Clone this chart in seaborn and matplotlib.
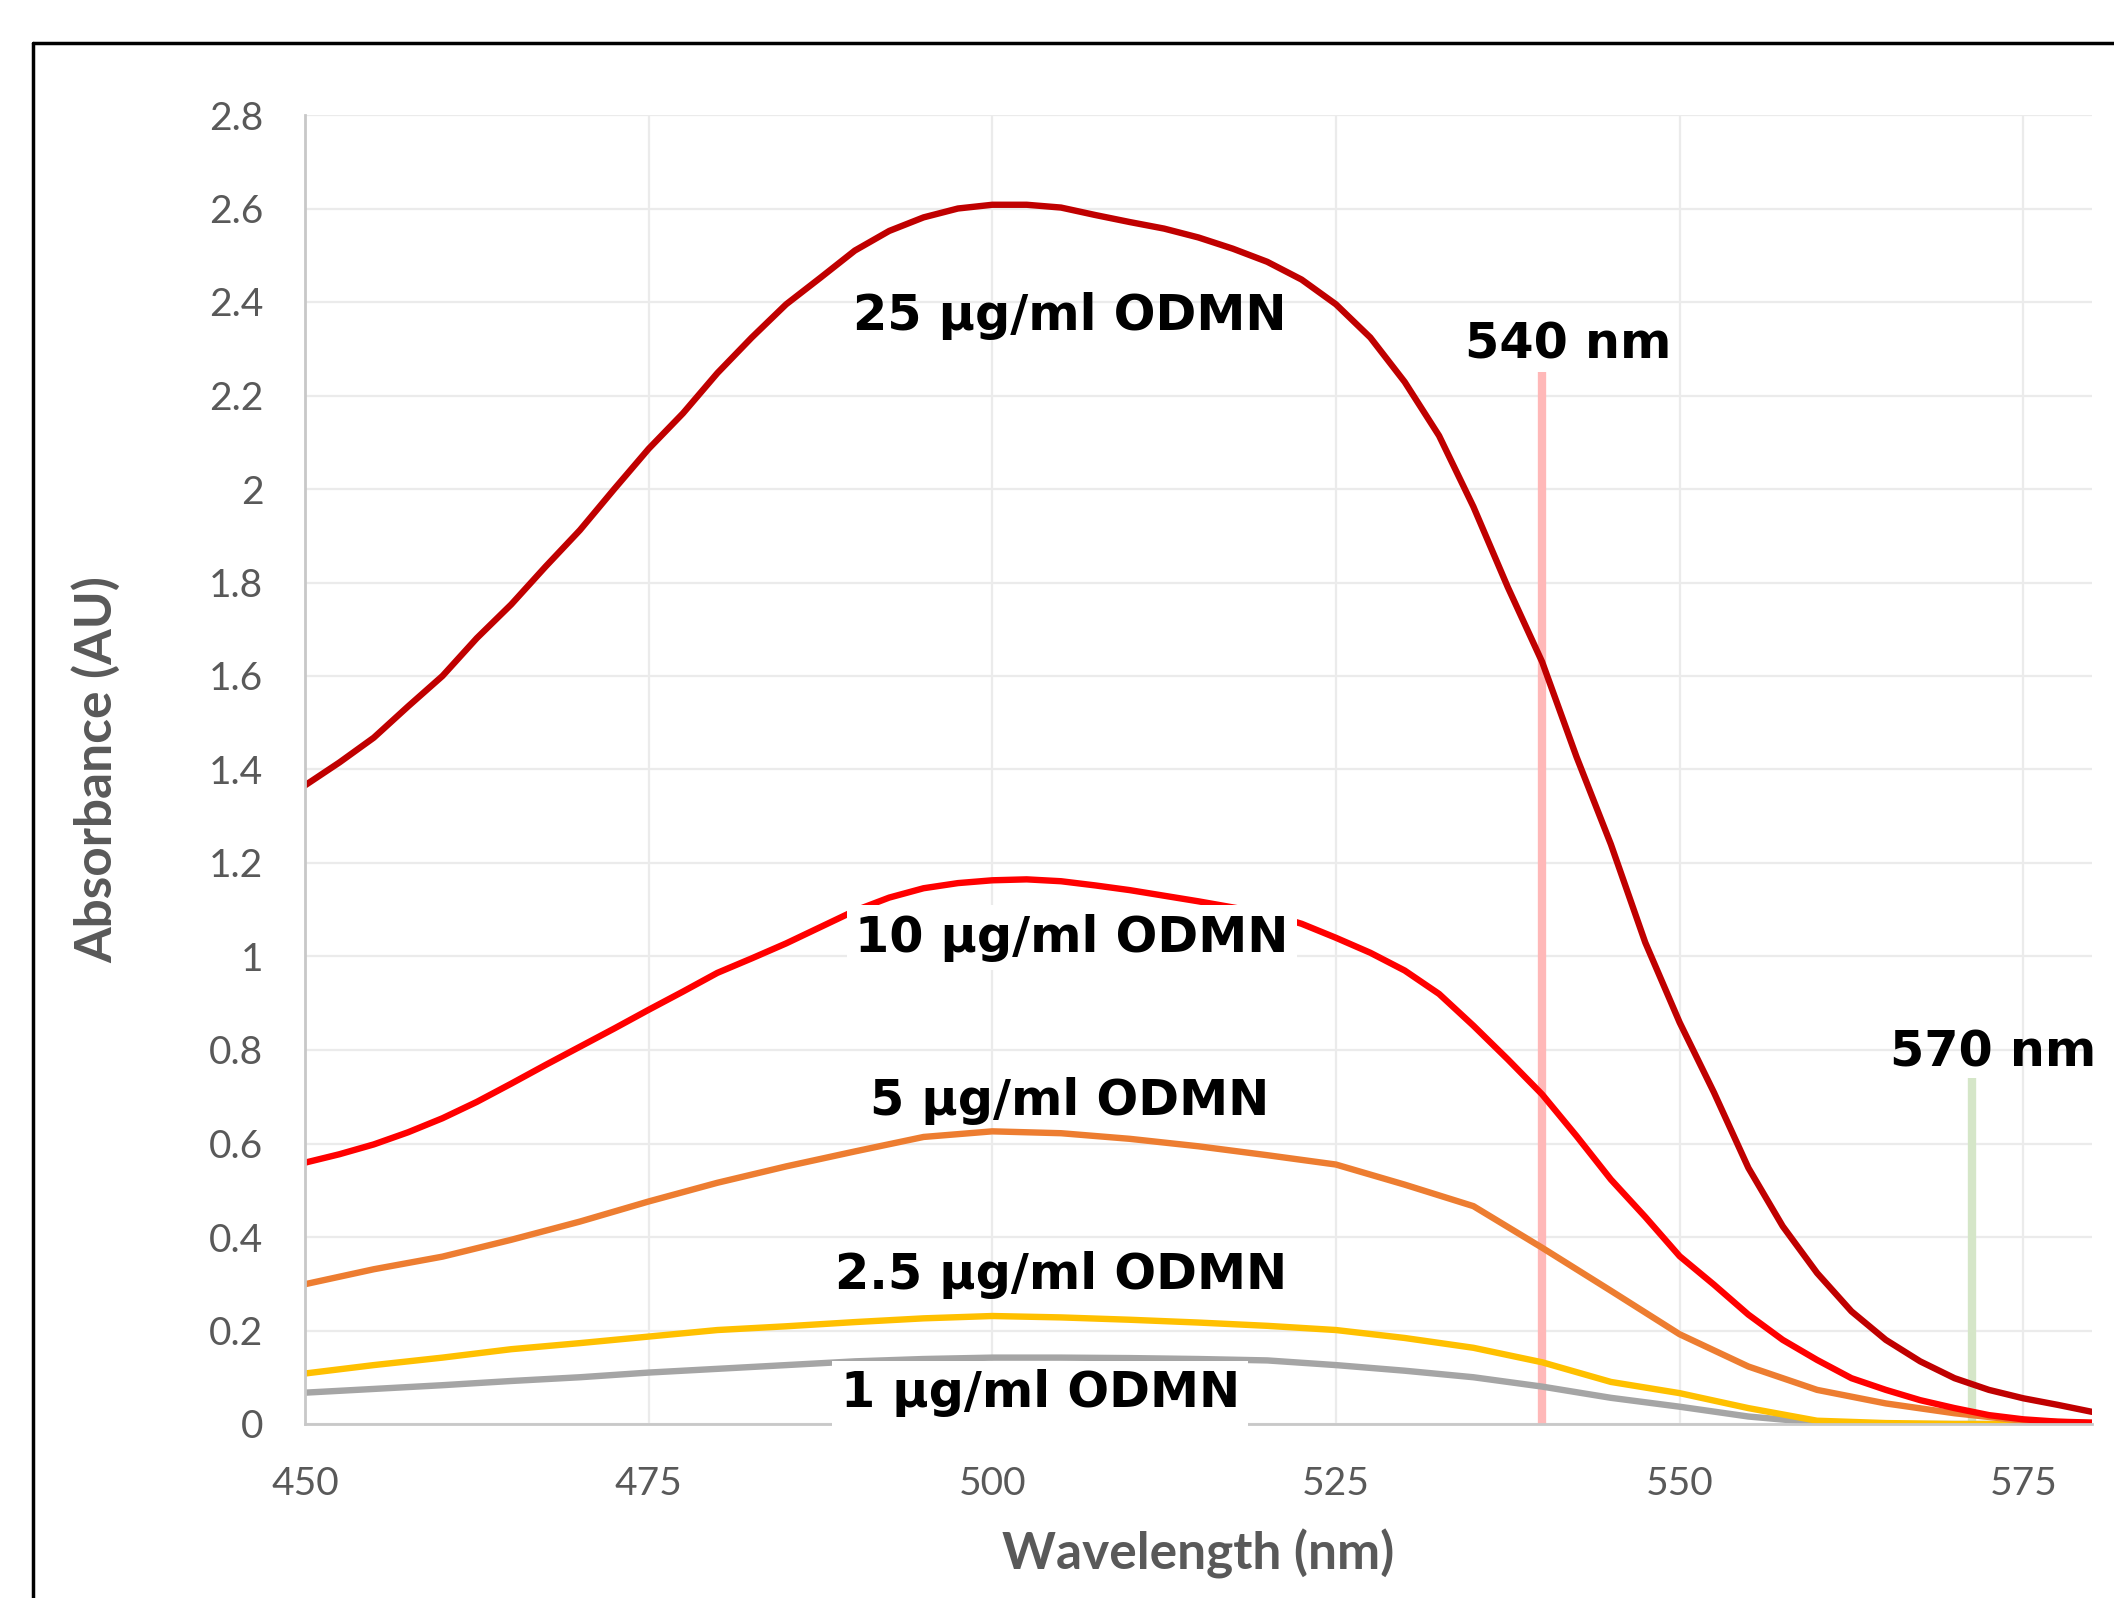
import matplotlib
matplotlib.use("Agg")
import matplotlib.pyplot as plt
import numpy as np
import pandas as pd
import seaborn as sns
from matplotlib.lines import Line2D
from matplotlib.ticker import MultipleLocator, FuncFormatter

# wavelength grids (nm); the two steep curves were read every 2.5 nm
wavelength = [450, 455, 460, 465, 470, 475, 480, 485, 490, 495, 500, 505, 510,
              515, 520, 525, 530, 535, 540, 545, 550, 555, 560, 565, 570, 575, 580]
wavelength_fine = [450, 452.5, 455, 457.5, 460, 462.5, 465, 467.5, 470, 472.5, 475, 477.5,
                   480, 482.5, 485, 487.5, 490, 492.5, 495, 497.5, 500, 502.5, 505, 507.5,
                   510, 512.5, 515, 517.5, 520, 522.5, 525, 527.5, 530, 532.5, 535, 537.5,
                   540, 542.5, 545, 547.5, 550, 552.5, 555, 557.5, 560, 562.5, 565, 567.5,
                   570, 572.5, 575, 577.5, 580]

abs_25 = [1.366, 1.415, 1.468, 1.535, 1.600, 1.681, 1.753, 1.834, 1.912, 2.000, 2.086, 2.162,
          2.248, 2.324, 2.395, 2.452, 2.510, 2.552, 2.581, 2.600, 2.608, 2.608, 2.602, 2.586,
          2.571, 2.557, 2.538, 2.514, 2.486, 2.448, 2.395, 2.324, 2.229, 2.114, 1.962, 1.790,
          1.630, 1.427, 1.240, 1.030, 0.859, 0.709, 0.548, 0.423, 0.323, 0.241, 0.180, 0.134,
          0.098, 0.073, 0.055, 0.041, 0.026]
abs_10 = [0.559, 0.577, 0.598, 0.624, 0.654, 0.689, 0.728, 0.768, 0.807, 0.846, 0.886, 0.925,
          0.965, 0.996, 1.028, 1.063, 1.098, 1.126, 1.146, 1.157, 1.163, 1.165, 1.161, 1.152,
          1.142, 1.130, 1.118, 1.105, 1.092, 1.070, 1.040, 1.008, 0.970, 0.920, 0.852, 0.780,
          0.705, 0.616, 0.523, 0.443, 0.359, 0.298, 0.234, 0.180, 0.137, 0.098, 0.073, 0.051,
          0.034, 0.019, 0.010, 0.005, 0.003]
abs_5 = [0.299, 0.331, 0.358, 0.394, 0.433, 0.476, 0.516, 0.551, 0.583, 0.614, 0.626, 0.622, 0.610,
         0.594, 0.575, 0.555, 0.512, 0.466, 0.377, 0.285, 0.192, 0.123, 0.073, 0.044, 0.023, 0.007, 0.002]
abs_2_5 = [0.108, 0.126, 0.142, 0.160, 0.173, 0.187, 0.201, 0.209, 0.218, 0.226, 0.231, 0.228, 0.223,
           0.217, 0.210, 0.201, 0.184, 0.163, 0.132, 0.090, 0.066, 0.034, 0.007, 0.002, 0.0, 0.0, 0.0]
abs_1 = [0.067, 0.075, 0.083, 0.092, 0.100, 0.110, 0.118, 0.126, 0.134, 0.139, 0.142, 0.142, 0.141,
         0.139, 0.136, 0.126, 0.114, 0.100, 0.080, 0.056, 0.037, 0.016, 0.003, 0.0, 0.0, 0.0, 0.0]

series_names = ["1", "2.5", "5", "25", "10"]
series_x = [wavelength, wavelength, wavelength, wavelength_fine, wavelength_fine]
series_values = [abs_1, abs_2_5, abs_5, abs_25, abs_10]
series_colors = ["#A5A5A5", "#FFC000", "#ED7D31", "#C00000", "#FF0000"]

labels = ["25 µg/ml ODMN", "10 µg/ml ODMN", "5 µg/ml ODMN", "2.5 µg/ml ODMN", "1 µg/ml ODMN"]
label_x = [505.6, 505.8, 505.6, 505.0, 503.5]
label_y = [2.37, 1.04, 0.69, 0.318, 0.066]
label_boxed = [False, True, False, False, True]

marker_nm = [540, 571.3]
marker_top = [2.25, 0.74]
marker_colors = ["#FFB8B8", "#D5E6C8"]
marker_text = ["540 nm", "570 nm"]
marker_text_x = [541.9, 572.8]
marker_text_y = [2.31, 0.795]

df = pd.concat(
    [pd.DataFrame({"wavelength": x, "absorbance": v, "conc": n})
     for n, x, v in zip(series_names, series_x, series_values)],
    ignore_index=True,
)

sns.set_theme(style="white")
plt.rcParams["font.family"] = ["Lato", "DejaVu Sans"]

fig = plt.figure(figsize=(21.14, 15.98), dpi=100)
ax = fig.add_axes([305 / 2114, 1 - 1424 / 1598, (2092 - 305) / 2114, (1424 - 115) / 1598])

# reference wavelength markers
for nm, top, c in zip(marker_nm, marker_top, marker_colors):
    ax.plot([nm, nm], [0, top], color=c, lw=6, zorder=1.5, solid_capstyle="butt")

sns.lineplot(
    data=df, x="wavelength", y="absorbance", hue="conc",
    hue_order=series_names, palette=dict(zip(series_names, series_colors)),
    legend=False, ax=ax, zorder=2,
)
for ln in ax.lines[2:]:
    ln.set_linewidth(4.6)
    ln.set_solid_capstyle("round")
    ln.set_solid_joinstyle("round")

for txt, x, y, boxed in zip(labels, label_x, label_y, label_boxed):
    kw = dict(ha="center", va="center", fontsize=35.5, fontweight="bold",
              family="DejaVu Sans", color="black", zorder=5)
    if boxed:
        kw["bbox"] = dict(facecolor="white", edgecolor="none", pad=6)
    ax.text(x, y, txt, **kw)

for txt, x, y in zip(marker_text, marker_text_x, marker_text_y):
    ax.text(x, y, txt, ha="center", va="center", fontsize=35.5, fontweight="bold",
            family="DejaVu Sans", color="black", zorder=5)

ax.set_xlim(450, 580)
ax.set_ylim(0, 2.8)
ax.xaxis.set_major_locator(MultipleLocator(25))
ax.xaxis.set_minor_locator(MultipleLocator(5))
ax.yaxis.set_major_locator(MultipleLocator(0.2))
ax.yaxis.set_minor_locator(MultipleLocator(0.04))
ax.yaxis.set_major_formatter(FuncFormatter(lambda v, p: f"{v:g}"))

ax.grid(True, which="major", color="#EBEBEB", lw=1.6)
ax.set_axisbelow(True)
for side in ["top", "right"]:
    ax.spines[side].set_visible(False)
for side in ["left", "bottom"]:
    ax.spines[side].set_color("#C8C8C8")
    ax.spines[side].set_linewidth(2)

ax.tick_params(which="both", direction="in", color="#C8C8C8", width=1.5,
               labelsize=28, labelcolor="#595959")
ax.tick_params(which="major", length=7)
ax.tick_params(which="minor", length=7)
ax.tick_params(axis="x", which="major", pad=30)
ax.tick_params(axis="y", which="major", pad=30)

ax.set_xlabel("Wavelength (nm)", fontsize=37, fontweight="bold", color="#595959")
ax.set_ylabel("Absorbance (AU)", fontsize=37, fontweight="bold", color="#595959")
ax.xaxis.set_label_coords(0.5, -0.08)
ax.yaxis.set_label_coords(-0.103, 0.5)

# outer frame (left and top edges visible)
fig.add_artist(Line2D([33 / 2114, 33 / 2114], [0, 1 - 43 / 1598], color="black", lw=2.5,
                      transform=fig.transFigure))
fig.add_artist(Line2D([33 / 2114, 1], [1 - 43 / 1598, 1 - 43 / 1598], color="black", lw=2.5,
                      transform=fig.transFigure))

fig.savefig("out.png", dpi=100)
